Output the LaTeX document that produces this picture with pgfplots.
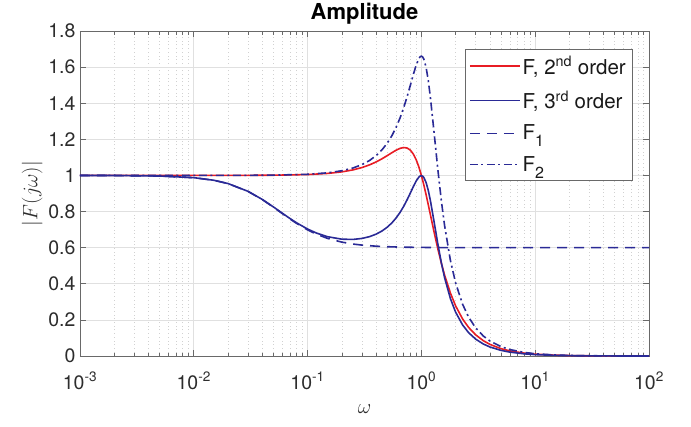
\documentclass[border=0pt]{standalone}
\usepackage{fontspec}
\setmainfont{TeX Gyre Heros}
\usepackage{pgfplots}
\pgfplotsset{compat=1.18}
\definecolor{mred}{RGB}{232,28,36}
\definecolor{mblue}{RGB}{42,42,150}
\definecolor{axgray}{RGB}{105,105,105}
\definecolor{txtgray}{RGB}{45,45,45}
\newcommand{\lsub}[1]{\raisebox{-7pt}{\fontsize{16}{16}\selectfont #1}}
\begin{document}
\begin{tikzpicture}[font=\fontsize{19.5}{23}\selectfont]
\useasboundingbox (-80pt,-70pt) rectangle (611pt,356pt);
\begin{axis}[
  scale only axis, width=569pt, height=325pt,
  xmode=log, xmin=1e-3, xmax=1e2, ymin=0, ymax=1.8,
  xtick={1e-3,1e-2,1e-1,1e0,1e1,1e2},
  xticklabels={{10\textsuperscript{-3}},{10\textsuperscript{-2}},{10\textsuperscript{-1}},{10\textsuperscript{0}},{10\textsuperscript{1}},{10\textsuperscript{2}}},
  ytick={0,0.2,0.4,0.6,0.8,1,1.2,1.4,1.6,1.8},
  yticklabels={0,0.2,0.4,0.6,0.8,1,1.2,1.4,1.6,1.8},
  tick label style={font=\fontsize{19.5}{23}\selectfont, text=txtgray},
  xticklabel style={anchor=base, yshift=-33pt},
  yticklabel style={xshift=-1pt},
  tick align=inside, tick pos=both,
  major tick length=6pt, minor tick length=3.5pt,
  every tick/.style={axgray, line width=0.6pt},
  axis line style={axgray, line width=0.7pt},
  grid=both,
  major grid style={color=black!12, line width=0.6pt},
  minor grid style={color=black!18, dash pattern=on 0.7pt off 3pt, line width=0.6pt},
  title={Amplitude},
  title style={at={(0.5,1)}, anchor=base, yshift=5pt, font=\bfseries\fontsize{22}{24}\selectfont},
  xlabel={$\omega$},
  xlabel style={at={(axis description cs:0.5,0)}, anchor=base, yshift=-57pt, font=\fontsize{21}{23}\selectfont, text=txtgray},
  ylabel={$|F(j\omega)|$},
  ylabel style={at={(axis description cs:-0.084,0.5)}, anchor=center, font=\fontsize{21}{23}\selectfont, text=txtgray},
  legend style={at={(0.97,0.945)}, anchor=north east, draw=axgray, fill=white,
    inner xsep=4pt, inner ysep=5pt, row sep=11pt, font=\fontsize{20.5}{23}\selectfont, text=black!90,
    nodes={inner xsep=2pt}},
  legend cell align=left,
  legend image code/.code={\draw[#1, line width=1.4pt] (0pt,0pt) -- (50pt,0pt);},
]
\addplot[color=mred, line width=1.6pt] coordinates {
(0.001,1) (0.005,1.00001) (0.01,1.00005) (0.02,1.0002) (0.05,1.00125) (0.1,1.00499) (0.15,1.01119) (0.2,1.01977) (0.25,1.03065) (0.3,1.04365) (0.35,1.05851) (0.4,1.07483) (0.45,1.09206) (0.5,1.1094) (0.55,1.1258) (0.6,1.1399) (0.65,1.1501) (0.7,1.15463) (0.75,1.1517) (0.8,1.1399) (0.85,1.11838) (0.9,1.08715) (0.95,1.04713) (1,1) (1.05,0.94788) (1.1,0.89296) (1.15,0.83726) (1.2,0.7824) (1.3,0.67946) (1.4,0.58909) (1.5,0.51215) (1.6,0.4475) (1.8,0.348) (2,0.27735) (2.3,0.20544) (2.6,0.15824) (3,0.11704) (3.5,0.08488) (4,0.06442) (5,0.04079) (6,0.02816) (8,0.01575) (10,0.01005) (15,0.00445) (20,0.0025) (30,0.00111) (50,0.0004) (100,0.0001)
};
\addlegendentry{F, 2\textsuperscript{nd} order}
\addplot[color=mblue, line width=1.6pt] coordinates {
(0.001,0.99987) (0.002,0.99949) (0.005,0.99684) (0.01,0.98768) (0.015,0.97336) (0.02,0.95509) (0.03,0.9119) (0.04,0.86705) (0.05,0.82594) (0.06,0.79067) (0.07,0.76144) (0.08,0.73771) (0.1,0.70305) (0.12,0.68054) (0.15,0.6606) (0.2,0.64701) (0.25,0.64564) (0.3,0.65103) (0.35,0.66104) (0.4,0.67489) (0.45,0.69223) (0.5,0.71298) (0.55,0.73716) (0.6,0.76475) (0.65,0.79569) (0.7,0.82964) (0.75,0.86585) (0.8,0.90292) (0.85,0.93857) (0.9,0.96934) (0.95,0.99089) (0.975,0.99673) (1,0.99858) (1.025,0.99605) (1.05,0.9889) (1.1,0.9608) (1.15,0.9165) (1.2,0.86049) (1.3,0.73445) (1.4,0.61468) (1.5,0.51389) (1.6,0.43291) (1.8,0.31734) (2,0.24246) (2.3,0.17219) (2.6,0.12911) (3,0.09334) (3.5,0.06652) (4,0.04994) (5,0.03123) (6,0.02142) (8,0.0119) (10,0.00758) (15,0.00335) (20,0.00188) (30,0.00084) (50,0.0003) (100,0.000075)
};
\addlegendentry{F, 3\textsuperscript{rd} order}
\addplot[color=mblue, line width=1.6pt, dash pattern=on 10pt off 7pt] coordinates {
(0.001,0.99987) (0.002,0.99949) (0.005,0.99682) (0.01,0.98762) (0.015,0.97322) (0.02,0.95484) (0.03,0.91137) (0.04,0.86617) (0.05,0.82462) (0.06,0.78886) (0.07,0.75909) (0.08,0.7347) (0.1,0.69857) (0.12,0.6743) (0.15,0.65115) (0.2,0.6306) (0.25,0.62017) (0.3,0.61425) (0.4,0.60815) (0.5,0.60526) (0.7,0.6027) (1,0.60133) (1.5,0.60059) (2,0.60033) (3,0.60015) (5,0.60005) (10,0.60001) (100,0.6)
};
\addlegendentry{F\lsub{1}}
\addplot[color=mblue, line width=1.6pt, dash pattern=on 8pt off 3.5pt on 2pt off 3.5pt] coordinates {
(0.001,1) (0.01,1.00006) (0.03,1.00058) (0.05,1.0016) (0.1,1.00642) (0.15,1.01452) (0.2,1.02602) (0.25,1.04107) (0.3,1.05987) (0.35,1.08266) (0.4,1.10974) (0.45,1.14141) (0.5,1.17797) (0.55,1.21973) (0.6,1.26685) (0.65,1.31927) (0.7,1.37653) (0.75,1.43743) (0.8,1.4997) (0.85,1.5595) (0.9,1.61116) (0.95,1.64745) (0.975,1.65736) (1,1.66062) (1.025,1.65658) (1.05,1.64485) (1.1,1.5984) (1.15,1.52493) (1.2,1.43196) (1.3,1.22249) (1.4,1.02331) (1.5,0.85564) (1.6,0.7209) (1.8,0.52853) (2,0.40388) (2.3,0.28686) (2.6,0.21511) (3,0.15552) (3.5,0.11084) (4,0.08322) (5,0.05205) (6,0.0357) (8,0.01984) (10,0.01263) (15,0.00558) (20,0.00313) (30,0.00139) (50,0.0005) (100,0.000125)
};
\addlegendentry{F\lsub{2}}
\end{axis}
\end{tikzpicture}
\end{document}
